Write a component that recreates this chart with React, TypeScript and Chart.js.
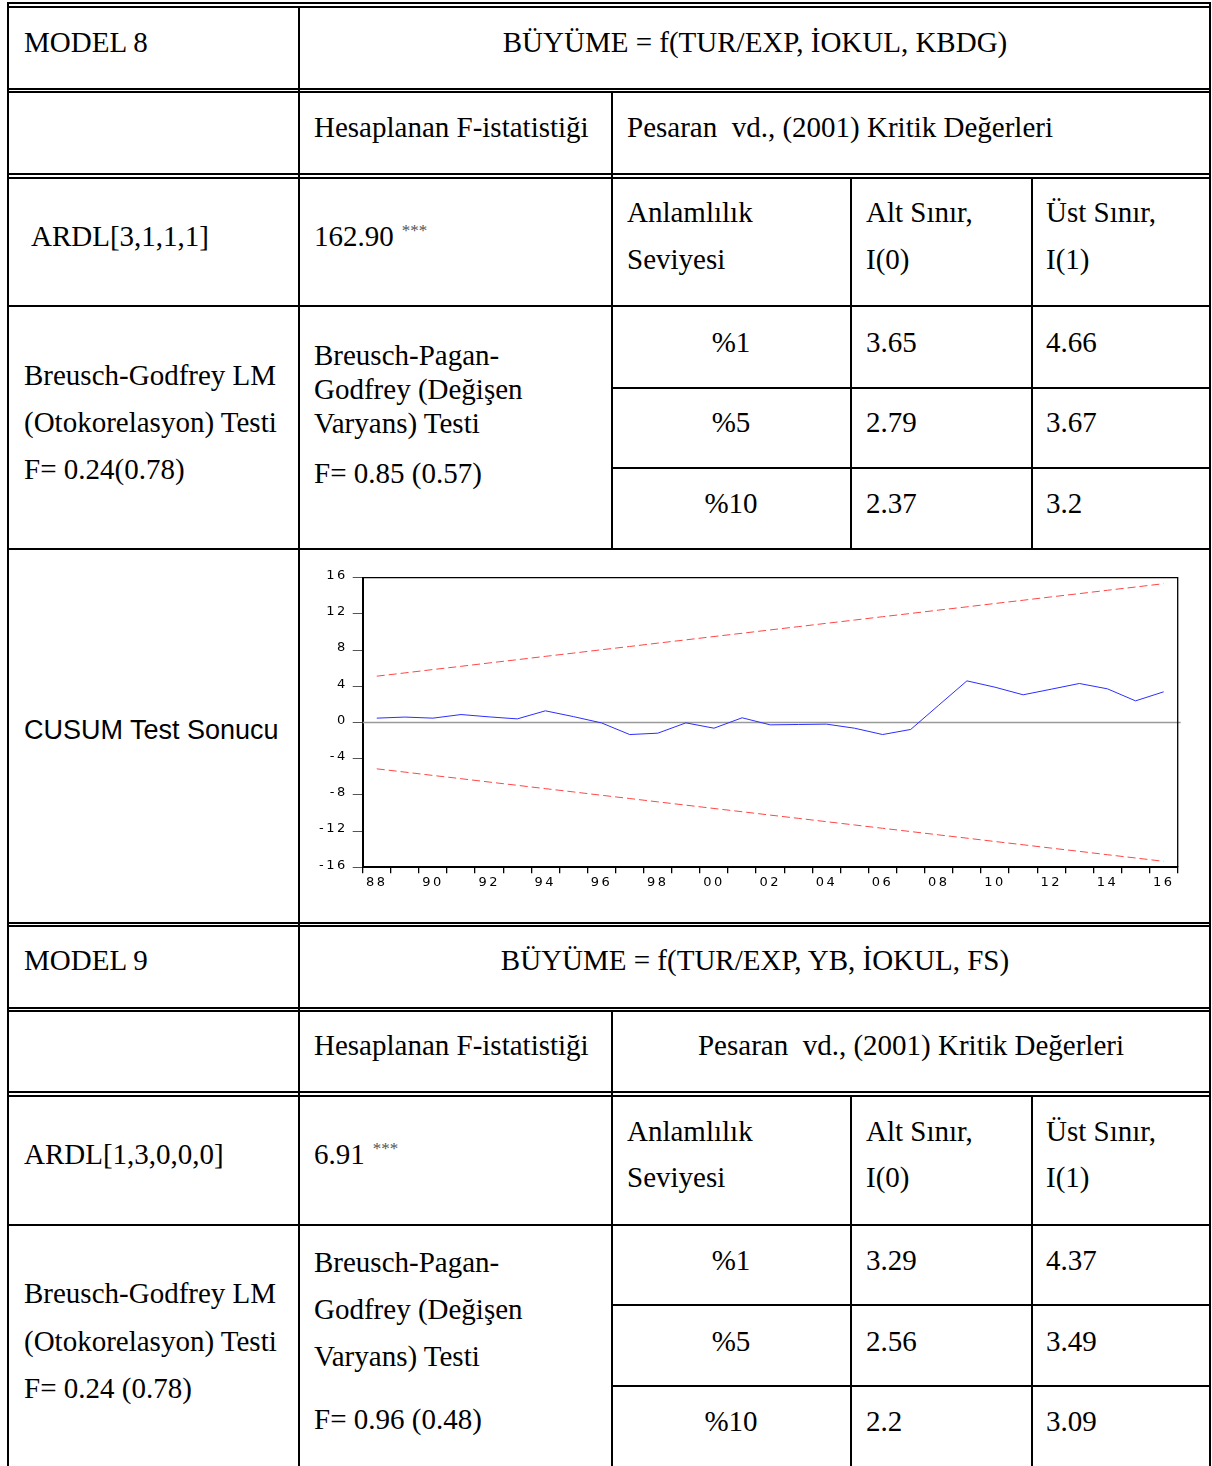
import React, { useEffect, useRef } from "react";
import { Chart, registerables } from "chart.js";

Chart.register(...registerables);

// ---------- DATA ----------
const years = [
  "1988", "1989", "1990", "1991", "1992", "1993", "1994", "1995", "1996", "1997",
  "1998", "1999", "2000", "2001", "2002", "2003", "2004", "2005", "2006", "2007",
  "2008", "2009", "2010", "2011", "2012", "2013", "2014", "2015", "2016",
];
const xTickLabels = ["88", "90", "92", "94", "96", "98", "00", "02", "04", "06", "08", "10", "12", "14", "16"];
const cusum = [
  0.48, 0.6, 0.48, 0.88, 0.62, 0.4, 1.29, 0.65, -0.05, -1.33,
  -1.18, -0.04, -0.63, 0.52, -0.26, -0.22, -0.18, -0.63, -1.33, -0.77,
  1.92, 4.6, 3.9, 3.06, 3.68, 4.31, 3.72, 2.39, 3.39,
];
const upperBound = [
  5.12, 5.48, 5.85, 6.21, 6.58, 6.94, 7.31, 7.67, 8.04, 8.4,
  8.77, 9.13, 9.5, 9.86, 10.23, 10.59, 10.96, 11.32, 11.69, 12.05,
  12.42, 12.78, 13.15, 13.51, 13.88, 14.24, 14.61, 14.97, 15.34,
];
const lowerBound = [
  -5.12, -5.48, -5.85, -6.21, -6.58, -6.94, -7.31, -7.67, -8.04, -8.4,
  -8.77, -9.13, -9.5, -9.86, -10.23, -10.59, -10.96, -11.32, -11.69, -12.05,
  -12.42, -12.78, -13.15, -13.51, -13.88, -14.24, -14.61, -14.97, -15.34,
];
const yMin = -16;
const yMax = 16;
const yStep = 4;

// ---------- CHART ----------
const LETTER_SPACING = "2.5px";
const framePlugin = {
  id: "frame",
  beforeLayout(chart: any) {
    chart.ctx.letterSpacing = LETTER_SPACING;
  },
  beforeDraw(chart: any) {
    chart.ctx.letterSpacing = LETTER_SPACING;
  },
  beforeDatasetsDraw(chart: any) {
    const { ctx, chartArea, scales } = chart;
    const { left, right, top, bottom } = chartArea;
    const y0 = scales.y.getPixelForValue(0);
    ctx.save();
    ctx.strokeStyle = "#9a9a9a";
    ctx.lineWidth = 1.5;
    ctx.beginPath();
    ctx.moveTo(left, y0);
    ctx.lineTo(right + 3, y0);
    ctx.stroke();
    ctx.strokeStyle = "#000";
    ctx.lineWidth = 1.3;
    ctx.beginPath();
    ctx.moveTo(left, top);
    ctx.lineTo(right, top);
    ctx.lineTo(right, bottom);
    ctx.stroke();
    ctx.restore();
  },
};

function CusumChart() {
  const ref = useRef<HTMLCanvasElement>(null);
  useEffect(() => {
    if (!ref.current) return;
    const tickFont = { family: "'DejaVu Sans', sans-serif", size: 13 };
    const chart = new Chart(ref.current, {
      type: "line",
      data: {
        labels: years,
        datasets: [
          {
            label: "CUSUM",
            data: cusum,
            borderColor: "rgb(45,45,255)",
            borderWidth: 1,
            pointRadius: 0,
            tension: 0,
          },
          {
            label: "5% Significance",
            data: upperBound,
            borderColor: "rgb(255,70,70)",
            borderWidth: 1,
            borderDash: [8, 4],
            pointRadius: 0,
            tension: 0,
          },
          {
            label: "5% Significance lower",
            data: lowerBound,
            borderColor: "rgb(255,70,70)",
            borderWidth: 1,
            borderDash: [8, 4],
            pointRadius: 0,
            tension: 0,
          },
        ],
      },
      options: {
        animation: false,
        responsive: false,
        maintainAspectRatio: false,
        events: [],
        layout: { padding: { top: 27.7, right: 31.3, left: 0, bottom: 0 } },
        plugins: { legend: { display: false }, tooltip: { enabled: false } },
        scales: {
          x: {
            type: "category",
            offset: true,
            grid: {
              offset: true,
              drawOnChartArea: false,
              drawTicks: true,
              tickLength: 6,
              color: "#000",
              lineWidth: 1.3,
            },
            border: { display: true, color: "#000", width: 2 },
            ticks: {
              autoSkip: false,
              maxRotation: 0,
              minRotation: 0,
              padding: 2,
              color: "#000",
              font: tickFont,
              callback: (_v: any, idx: number) => (idx % 2 === 0 ? xTickLabels[idx / 2] : ""),
            },
            afterFit: (scale: any) => {
              scale.height = 52.7;
            },
          },
          y: {
            min: yMin,
            max: yMax,
            grid: {
              drawOnChartArea: false,
              drawTicks: true,
              tickLength: 10,
              color: "#555",
            },
            border: { display: true, color: "#000", width: 2 },
            ticks: {
              stepSize: yStep,
              padding: 5,
              labelOffset: -2,
              color: "#000",
              font: tickFont,
            },
            afterFit: (scale: any) => {
              scale.width = 62.7;
            },
          },
        },
      },
      plugins: [framePlugin],
    } as any);
    return () => chart.destroy();
  }, []);
  return (
    <canvas
      ref={ref}
      width={909}
      height={370}
      style={{ position: "absolute", left: 300, top: 550, width: 909, height: 370 }}
    />
  );
}

// ---------- TABLE LAYOUT ----------
type HL = [number, number, number, number?]; // x1, x2, y, h
type VL = [number, number, number, number?]; // x, y1, y2, w

const hLines: HL[] = [
  [7, 1211, 2], [7, 1211, 6],
  [7, 1211, 88], [7, 1211, 91],
  [7, 1211, 173], [7, 1211, 177],
  [7, 1211, 305],
  [611, 1211, 387], [611, 1211, 467],
  [7, 1211, 548],
  [7, 1211, 922], [7, 1211, 925],
  [7, 1211, 1007], [7, 1211, 1010],
  [7, 1211, 1091], [7, 1211, 1095],
  [7, 1211, 1224],
  [611, 1211, 1304], [611, 1211, 1385],
];
const vLines: VL[] = [
  [7, 2, 1466], [1209, 2, 1466],
  [298, 6, 1466],
  [611, 91, 549], [611, 1010, 1466],
  [850, 177, 549], [850, 1095, 1466],
  [1031, 177, 549], [1031, 1095, 1466],
];

type T = { x?: number; cx?: number; cy: number; t: string; sup?: string; sans?: boolean };
const texts: T[] = [
  { x: 24, cy: 42, t: "MODEL 8" },
  { cx: 755, cy: 42, t: "BÜYÜME = f(TUR/EXP, İOKUL, KBDG)" },
  { x: 314, cy: 127, t: "Hesaplanan F-istatistiği" },
  { x: 627, cy: 127, t: "Pesaran  vd., (2001) Kritik Değerleri" },
  { x: 31, cy: 236, t: "ARDL[3,1,1,1]" },
  { x: 314, cy: 236, t: "162.90", sup: "***" },
  { x: 627, cy: 212, t: "Anlamlılık" },
  { x: 627, cy: 259, t: "Seviyesi" },
  { x: 866, cy: 212, t: "Alt Sınır," },
  { x: 866, cy: 259, t: "I(0)" },
  { x: 1046, cy: 212, t: "Üst Sınır," },
  { x: 1046, cy: 259, t: "I(1)" },
  { cx: 731, cy: 342, t: "%1" },
  { x: 866, cy: 342, t: "3.65" },
  { x: 1046, cy: 342, t: "4.66" },
  { cx: 731, cy: 422, t: "%5" },
  { x: 866, cy: 422, t: "2.79" },
  { x: 1046, cy: 422, t: "3.67" },
  { cx: 731, cy: 503, t: "%10" },
  { x: 866, cy: 503, t: "2.37" },
  { x: 1046, cy: 503, t: "3.2" },
  { x: 24, cy: 375, t: "Breusch-Godfrey LM" },
  { x: 24, cy: 422, t: "(Otokorelasyon) Testi" },
  { x: 24, cy: 469, t: "F= 0.24(0.78)" },
  { x: 314, cy: 355, t: "Breusch-Pagan-" },
  { x: 314, cy: 389, t: "Godfrey (Değişen" },
  { x: 314, cy: 423, t: "Varyans) Testi" },
  { x: 314, cy: 473, t: "F= 0.85 (0.57)" },
  { x: 24, cy: 730, t: "CUSUM Test Sonucu", sans: true },
  { x: 24, cy: 960, t: "MODEL 9" },
  { cx: 755, cy: 960, t: "BÜYÜME = f(TUR/EXP, YB, İOKUL, FS)" },
  { x: 314, cy: 1045, t: "Hesaplanan F-istatistiği" },
  { cx: 911, cy: 1045, t: "Pesaran  vd., (2001) Kritik Değerleri" },
  { x: 24, cy: 1154, t: "ARDL[1,3,0,0,0]" },
  { x: 314, cy: 1154, t: "6.91", sup: "***" },
  { x: 627, cy: 1131, t: "Anlamlılık" },
  { x: 627, cy: 1177, t: "Seviyesi" },
  { x: 866, cy: 1131, t: "Alt Sınır," },
  { x: 866, cy: 1177, t: "I(0)" },
  { x: 1046, cy: 1131, t: "Üst Sınır," },
  { x: 1046, cy: 1177, t: "I(1)" },
  { cx: 731, cy: 1260, t: "%1" },
  { x: 866, cy: 1260, t: "3.29" },
  { x: 1046, cy: 1260, t: "4.37" },
  { cx: 731, cy: 1341, t: "%5" },
  { x: 866, cy: 1341, t: "2.56" },
  { x: 1046, cy: 1341, t: "3.49" },
  { cx: 731, cy: 1421, t: "%10" },
  { x: 866, cy: 1421, t: "2.2" },
  { x: 1046, cy: 1421, t: "3.09" },
  { x: 24, cy: 1293, t: "Breusch-Godfrey LM" },
  { x: 24, cy: 1341, t: "(Otokorelasyon) Testi" },
  { x: 24, cy: 1388, t: "F= 0.24 (0.78)" },
  { x: 314, cy: 1262, t: "Breusch-Pagan-" },
  { x: 314, cy: 1309, t: "Godfrey (Değişen" },
  { x: 314, cy: 1356, t: "Varyans) Testi" },
  { x: 314, cy: 1419, t: "F= 0.96 (0.48)" },
];

export default function App() {
  const LH = 34;
  return (
    <div
      style={{
        position: "absolute",
        left: 0,
        top: 0,
        width: 1212,
        height: 1466,
        background: "#fff",
        overflow: "hidden",
      }}
    >
      {hLines.map(([x1, x2, y, h], i) => (
        <div
          key={"h" + i}
          style={{ position: "absolute", left: x1, top: y, width: x2 - x1, height: h ?? 2, background: "#000" }}
        />
      ))}
      {vLines.map(([x, y1, y2, w], i) => (
        <div
          key={"v" + i}
          style={{ position: "absolute", left: x, top: y1, width: w ?? 2, height: y2 - y1, background: "#000" }}
        />
      ))}
      {texts.map((tx, i) => {
        const base: React.CSSProperties = {
          position: "absolute",
          top: tx.cy - LH / 2,
          height: LH,
          lineHeight: LH + "px",
          whiteSpace: "pre",
          color: "#000",
          fontFamily: tx.sans ? "'Liberation Sans', Arial, sans-serif" : "'Liberation Serif', 'Times New Roman', serif",
          fontSize: tx.sans ? 27 : 29,
        };
        if (tx.cx !== undefined) {
          Object.assign(base, { left: tx.cx - 500, width: 1000, textAlign: "center" });
        } else {
          Object.assign(base, { left: tx.x });
        }
        return (
          <div key={"t" + i} style={base}>
            {tx.t}
            {tx.sup ? (
              <span style={{ fontSize: 17, color: "#555", marginLeft: 8, position: "relative", top: -10 }}>{tx.sup}</span>
            ) : null}
          </div>
        );
      })}
      <CusumChart />
    </div>
  );
}
